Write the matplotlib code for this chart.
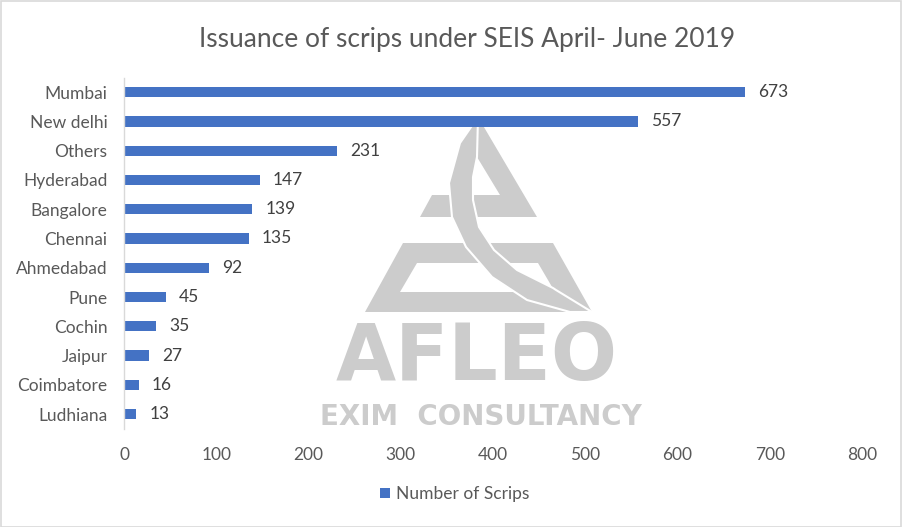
import matplotlib.pyplot as plt
from matplotlib.patches import Polygon, Rectangle, PathPatch
from matplotlib.path import Path

# === DATA ===
cities = ["Mumbai", "New delhi", "Others", "Hyderabad", "Bangalore", "Chennai",
          "Ahmedabad", "Pune", "Cochin", "Jaipur", "Coimbatore", "Ludhiana"]
scrips = [673, 557, 231, 147, 139, 135, 92, 45, 35, 27, 16, 13]
xticks = [0, 100, 200, 300, 400, 500, 600, 700, 800]

title = "Issuance of scrips under SEIS April- June 2019"
series_name = "Number of Scrips"

BLUE = "#4472C4"
GREY_TXT = "#595959"
LOGO = "#cccccc"
FONT = "Lato"

plt.rcParams["font.family"] = [FONT, "DejaVu Sans"]

W, H = 902, 527
fig = plt.figure(figsize=(W / 100, H / 100), dpi=100)

# watermark (AFLEO logo) behind the chart, drawn in figure pixel coordinates
wm = fig.add_axes([0, 0, 1, 1], facecolor="none", zorder=0)
wm.set_xlim(0, W)
wm.set_ylim(H, 0)
wm.axis("off")

upper = [(478, 117), (537, 217), (420, 217), (432, 195), (500, 195), (477, 157)]
wm.add_patch(Polygon(upper, closed=True, facecolor=LOGO, edgecolor="none"))

outer = [(403, 243), (553, 243), (592, 312), (365, 312), (403, 243)]
hole = [(417, 263), (400, 292), (555, 292), (538, 263), (417, 263)]
codes = ([Path.MOVETO] + [Path.LINETO] * 3 + [Path.CLOSEPOLY]) * 2
wm.add_patch(PathPatch(Path(outer + hole, codes), facecolor=LOGO, edgecolor="none"))

cres_out = [(478, 117), (460, 143), (449, 183), (452, 217), (466, 247),
            (492, 277), (527, 300), (570, 312), (592, 312)]
cres_in = [(556, 290), (553, 288), (517, 270), (494, 250), (479, 227),
           (473, 200), (473, 177), (477, 157)]
wm.add_patch(Polygon(cres_out + cres_in, closed=True, facecolor=LOGO,
                     edgecolor="white", linewidth=1.5, joinstyle="round"))

wm.text(477, 358, "AFLEO", ha="center", va="center", fontsize=56, fontweight="bold",
        color=LOGO, family="DejaVu Sans")
wm.text(481, 417, "EXIM  CONSULTANCY", ha="center", va="center", fontsize=20,
        fontweight="bold", color=LOGO, family="DejaVu Sans")

ax = fig.add_axes([124 / W, 1 - 428.7 / H, (862 - 124) / W, (428.7 - 77.5) / H], zorder=1)
ax.set_facecolor("none")

ypos = list(range(len(cities)))
bars = ax.barh(ypos, scrips, height=0.35, color=BLUE, label=series_name, zorder=2)
ax.set_ylim(len(cities) - 0.5, -0.5)
ax.set_yticks(ypos)
ax.set_yticklabels(cities, fontsize=12.5, color=GREY_TXT)
ax.set_xlim(0, 800)
ax.set_xticks(xticks)
ax.set_xticklabels([str(t) for t in xticks], fontsize=12.5, color=GREY_TXT)
ax.tick_params(axis="both", length=0)
ax.tick_params(axis="x", pad=13)
ax.tick_params(axis="y", pad=12)
for s in ["top", "right", "bottom"]:
    ax.spines[s].set_visible(False)
ax.spines["left"].set_color("#d9d9d9")
ax.spines["left"].set_linewidth(1.0)

for b, v in zip(bars, scrips):
    ax.annotate(str(v), (b.get_width(), b.get_y() + b.get_height() / 2),
                xytext=(9.5, 0), textcoords="offset points", va="center", ha="left",
                fontsize=12.5, color="#404040", zorder=3)

fig.text(467 / W, 1 - 40 / H, title, ha="center", va="center", fontsize=19, color=GREY_TXT)

leg = fig.legend(handles=[bars], labels=[series_name], loc="center",
                 bbox_to_anchor=(455 / W, 1 - 494 / H), frameon=False,
                 fontsize=12.5, handlelength=0.55, handleheight=0.55, handletextpad=0.35)
for t in leg.get_texts():
    t.set_color(GREY_TXT)

# chart border
fig.patches.append(Rectangle((0.5 / W, 0.5 / H), 1 - 1.5 / W, 1 - 1.5 / H,
                             transform=fig.transFigure, fill=False,
                             edgecolor="#d9d9d9", linewidth=1.2))

plt.savefig("out.png", dpi=100)
plt.close()
